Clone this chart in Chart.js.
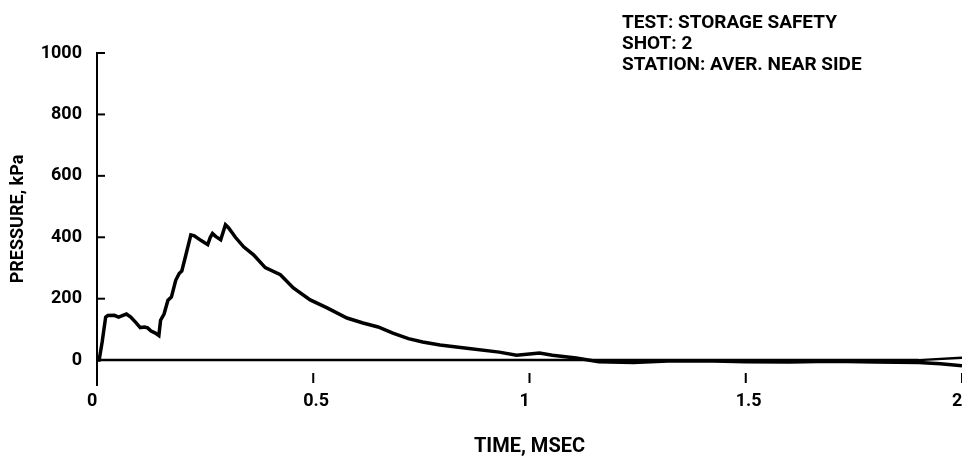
<!DOCTYPE html>
<html>
<head>
<meta charset="utf-8">
<script src="https://cdn.jsdelivr.net/npm/chart.js@4.4.1/dist/chart.umd.min.js"></script>
<style>
  html, body { margin: 0; padding: 0; background: #fff; }
  #wrap { width: 962px; height: 462px; position: relative; }
</style>
</head>
<body>
<div id="wrap"><canvas id="pressure"></canvas></div>
<script>
// time in msec, pressure in kPa
var times = [0, 0.005, 0.012, 0.02, 0.025, 0.04, 0.05, 0.06, 0.068, 0.078, 0.09, 0.1, 0.11, 0.117,
    0.125, 0.135, 0.143, 0.147, 0.155, 0.164, 0.172, 0.182, 0.19, 0.196, 0.205, 0.217, 0.225,
    0.24, 0.256, 0.262, 0.267, 0.275, 0.286, 0.297, 0.304, 0.32, 0.339, 0.362, 0.389, 0.424,
    0.454, 0.493, 0.532, 0.578, 0.615, 0.65, 0.684, 0.72, 0.753, 0.793, 0.855, 0.93, 0.97,
    1.0, 1.023, 1.053, 1.108, 1.16, 1.24, 1.32, 1.4, 1.5, 1.6, 1.7, 1.8, 1.9, 1.95, 2.0];
var pressure = [0, 0, 60, 140, 145, 146, 140, 146, 150, 140, 122, 106, 108, 105,
    95, 88, 80, 130, 150, 195, 205, 260, 282, 290, 340, 408, 405,
    390, 376, 400, 412, 402, 392, 441, 431, 400, 369, 343, 301, 278,
    235, 196, 170, 137, 121, 108, 88, 70, 59, 49, 39, 26, 16,
    20, 23, 16, 7, -5, -8, -3, -2, -5, -6, -4, -6, -8, -12, -18];

var baseTimes = [0, 1.9, 2.0];
var baseValues = [0, 0, 8];

var xTicks = [0, 0.5, 1, 1.5, 2];
var yTicks = [0, 200, 400, 600, 800, 1000];

var header = ['TEST: STORAGE SAFETY', 'SHOT: 2', 'STATION: AVER. NEAR SIDE'];

var plotFont = 'Roboto, "DejaVu Sans", sans-serif';

function toPoints(xs, ys) {
    var pts = [];
    for (var i = 0; i < xs.length; i++) {
        pts.push({ x: xs[i], y: ys[i] });
    }
    return pts;
}

// inward tick marks plus the header text block
var marksPlugin = {
    id: 'marks',
    afterDraw: function(chart) {
        var ctx = chart.ctx;
        var xs = chart.scales.x;
        var ys = chart.scales.y;
        var left = chart.chartArea.left;
        var bottom = chart.chartArea.bottom;
        ctx.save();
        ctx.strokeStyle = '#000';
        ctx.lineWidth = 2;
        yTicks.forEach(function(v) {
            if (v === 0) return;
            var py = ys.getPixelForValue(v);
            ctx.beginPath();
            ctx.moveTo(left, py);
            ctx.lineTo(left + 8, py);
            ctx.stroke();
        });
        xTicks.forEach(function(v) {
            if (v === 0) return;
            var px = xs.getPixelForValue(v);
            ctx.beginPath();
            ctx.moveTo(px, bottom - 12);
            ctx.lineTo(px, bottom - 2);
            ctx.stroke();
        });
        ctx.fillStyle = '#000';
        ctx.font = 'bold 19px ' + plotFont;
        ctx.textBaseline = 'alphabetic';
        ctx.textAlign = 'left';
        for (var i = 0; i < header.length; i++) {
            ctx.fillText(header[i], 622, 28 + i * 21);
        }
        ctx.restore();
    }
};

var data = {
    datasets: [
        {
            data: toPoints(times, pressure),
            showLine: true,
            borderColor: '#000',
            borderWidth: 3.5,
            pointRadius: 0,
            tension: 0,
            clip: false
        },
        {
            data: toPoints(baseTimes, baseValues),
            showLine: true,
            borderColor: '#000',
            borderWidth: 2.5,
            pointRadius: 0,
            tension: 0,
            clip: false
        }
    ]
};

var tickFont = { family: plotFont, size: 18, weight: 'bold' };

const config = {
    type: 'scatter',
    data: data,
    options: {
        responsive: true,
        maintainAspectRatio: false,
        animation: false,
        layout: { padding: { top: 53, right: 0, left: 0, bottom: 0 } },
        plugins: {
            legend: { display: false },
            tooltip: { enabled: false }
        },
        scales: {
            x: {
                type: 'linear',
                min: 0,
                max: 2,
                afterBuildTicks: function(s) {
                    s.ticks = xTicks.map(function(v) { return { value: v }; });
                },
                afterFit: function(s) {
                    s.height = 77;
                    s.paddingLeft = 0;
                    s.paddingRight = 0;
                },
                grid: { display: true, drawOnChartArea: false, drawTicks: false },
                border: { display: false },
                ticks: {
                    color: '#000',
                    font: tickFont,
                    align: 'start',
                    labelOffset: -10,
                    padding: 6,
                    autoSkip: false,
                    maxRotation: 0,
                    callback: function(v) { return String(v); }
                },
                title: {
                    display: true,
                    text: 'TIME, MSEC',
                    color: '#000',
                    font: { family: plotFont, size: 20, weight: 'bold' },
                    padding: { top: 0, bottom: 3 }
                }
            },
            y: {
                min: -81,
                max: 1000,
                afterBuildTicks: function(s) {
                    s.ticks = yTicks.map(function(v) { return { value: v }; });
                },
                afterFit: function(s) {
                    s.width = 97;
                },
                grid: { display: true, drawOnChartArea: false, drawTicks: false },
                border: { display: true, color: '#000', width: 2 },
                ticks: {
                    color: '#000',
                    font: tickFont,
                    padding: 15,
                    autoSkip: false,
                    callback: function(v) { return String(v); }
                },
                title: {
                    display: true,
                    text: 'PRESSURE, kPa',
                    color: '#000',
                    font: { family: plotFont, size: 18, weight: 'bold' },
                    padding: { top: 8, bottom: 0 }
                }
            }
        }
    },
    plugins: [marksPlugin]
};

new Chart(document.getElementById('pressure'), config);
</script>
</body>
</html>
